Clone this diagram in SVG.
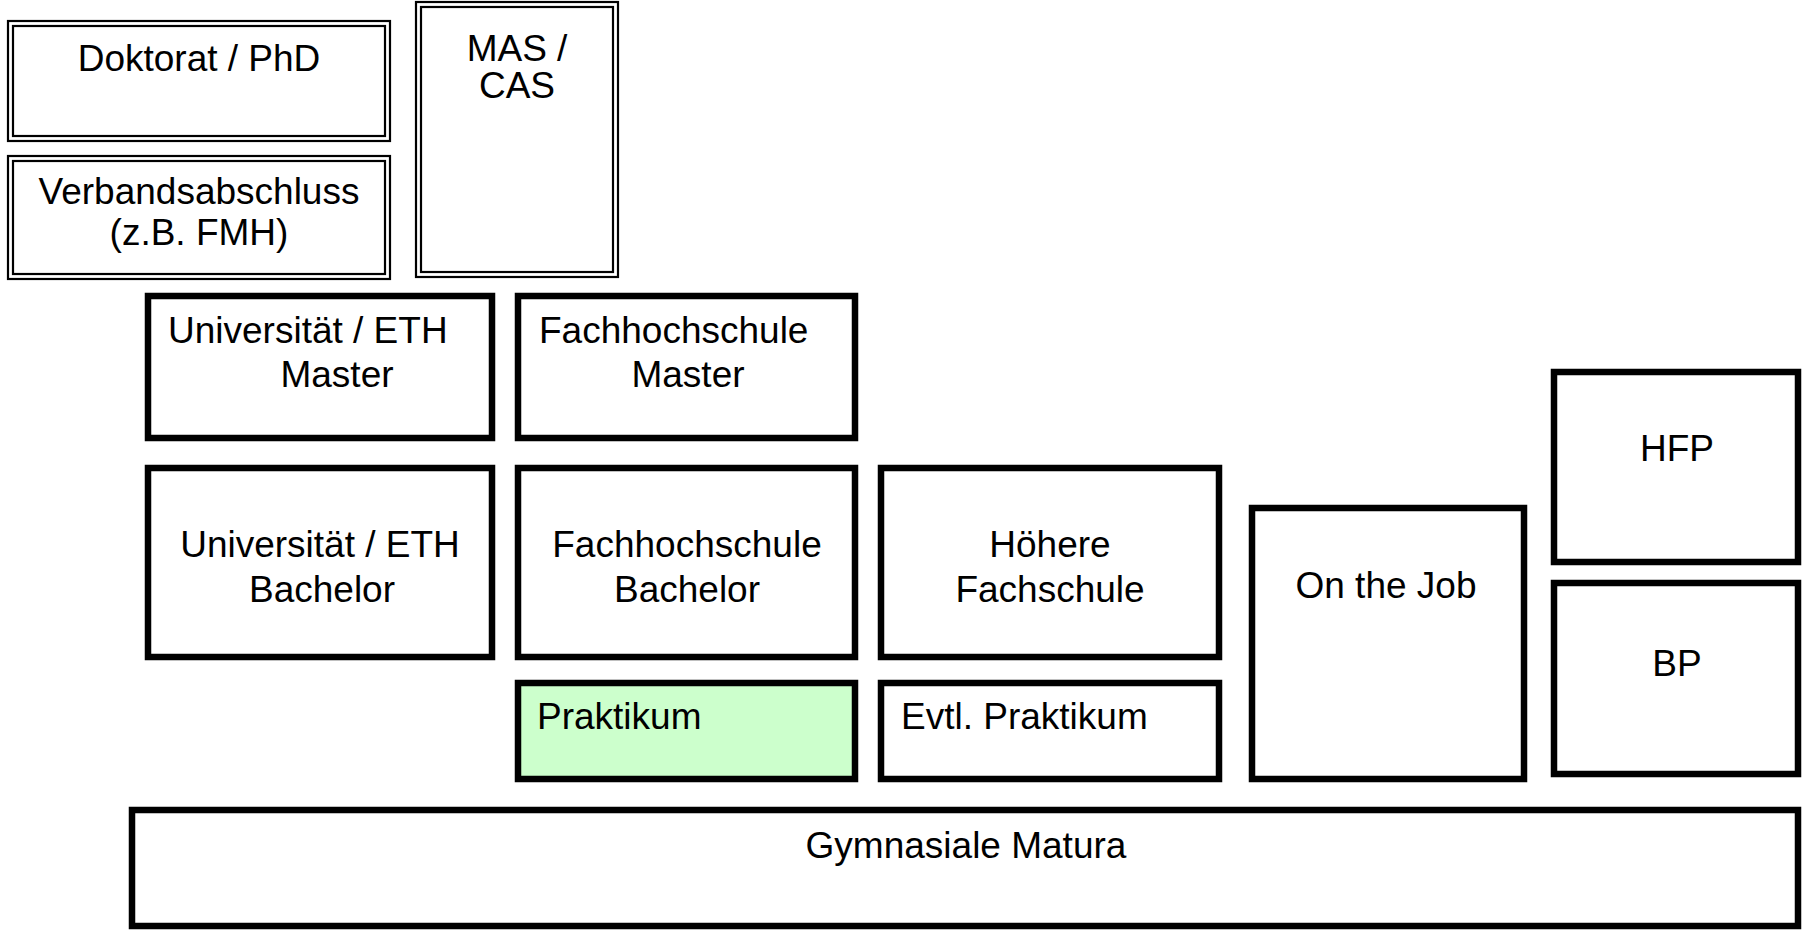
<svg xmlns="http://www.w3.org/2000/svg" width="1807" height="931" viewBox="0 0 1807 931">
<style>
.dbl-o{fill:#fff;stroke:#000;stroke-width:2.2}
.dbl-i{fill:none;stroke:#000;stroke-width:2.2}
.box{fill:#fff;stroke:#000;stroke-width:6.5}
.green{fill:#ccffcc}
text{font-family:"Liberation Sans",Arial,sans-serif;font-size:37px;fill:#000}
.c{text-anchor:middle}
</style>
<rect width="1807" height="931" fill="#fff"/>
<g id="doktorat">
<rect class="dbl-o" x="8" y="21" width="382" height="120"/>
<rect class="dbl-i" x="13" y="26" width="372" height="110"/>
<text class="c" x="199" y="71">Doktorat / PhD</text>
</g>
<g id="verbandsabschluss">
<rect class="dbl-o" x="8" y="156" width="382" height="123"/>
<rect class="dbl-i" x="13" y="161" width="372" height="113"/>
<text class="c" x="199" y="204">Verbandsabschluss</text>
<text class="c" x="199" y="245">(z.B. FMH)</text>
</g>
<g id="mas-cas">
<rect class="dbl-o" x="416" y="2" width="202" height="275"/>
<rect class="dbl-i" x="421" y="7" width="192" height="265"/>
<text class="c" x="517" y="61">MAS /</text>
<text class="c" x="517" y="98">CAS</text>
</g>
<g id="uni-master">
<rect class="box" x="148" y="296" width="344" height="142"/>
<text x="168" y="343">Universität / ETH</text>
<text class="c" x="337" y="387">Master</text>
</g>
<g id="fh-master">
<rect class="box" x="518" y="296" width="337" height="142"/>
<text x="539" y="343">Fachhochschule</text>
<text class="c" x="688" y="387">Master</text>
</g>
<g id="uni-bachelor">
<rect class="box" x="148" y="468" width="344" height="189"/>
<text class="c" x="320" y="557">Universität / ETH</text>
<text class="c" x="322" y="602">Bachelor</text>
</g>
<g id="fh-bachelor">
<rect class="box" x="518" y="468" width="337" height="189"/>
<text class="c" x="687" y="557">Fachhochschule</text>
<text class="c" x="687" y="602">Bachelor</text>
</g>
<g id="hoehere-fachschule">
<rect class="box" x="881" y="468" width="338" height="189"/>
<text class="c" x="1050" y="557">Höhere</text>
<text class="c" x="1050" y="602">Fachschule</text>
</g>
<g id="praktikum">
<rect class="box green" x="518" y="683" width="337" height="96"/>
<text x="537" y="729">Praktikum</text>
</g>
<g id="evtl-praktikum">
<rect class="box" x="881" y="683" width="338" height="96"/>
<text x="901" y="729">Evtl. Praktikum</text>
</g>
<g id="on-the-job">
<rect class="box" x="1252" y="508" width="272" height="271"/>
<text class="c" x="1386" y="598">On the Job</text>
</g>
<g id="hfp">
<rect class="box" x="1554" y="372" width="244" height="190"/>
<text class="c" x="1677" y="461">HFP</text>
</g>
<g id="bp">
<rect class="box" x="1554" y="583" width="244" height="191"/>
<text class="c" x="1677" y="676">BP</text>
</g>
<g id="gymnasiale-matura">
<rect class="box" x="132" y="810" width="1666" height="116"/>
<text class="c" x="966" y="858">Gymnasiale Matura</text>
</g>
<g id="connectors"></g>
</svg>
